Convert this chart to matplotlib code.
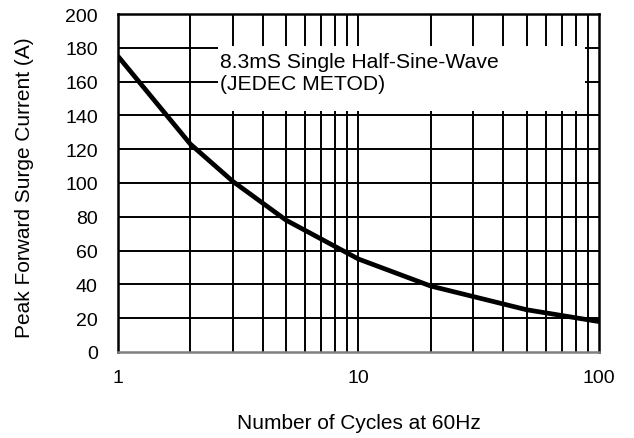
import matplotlib
matplotlib.use('Agg')
import matplotlib.pyplot as plt
from matplotlib.patches import Rectangle
import numpy as np

plt.rcParams['font.family'] = ['Liberation Sans', 'DejaVu Sans']

cycles = [1, 2, 3, 5, 10, 20, 50, 100]
current = [175, 123, 101, 78, 55, 39, 25, 18]

y_ticks = list(range(0, 201, 20))
x_ticks = [1, 10, 100]
x_tick_labels = ['1', '10', '100']

fig = plt.figure(figsize=(6.34, 4.39), dpi=100)
ax = fig.add_axes([118/634, 1 - 353/439, (599-118)/634, (353-15)/439])

ax.set_xscale('log')
ax.set_xlim(1, 100)
ax.set_ylim(0, 200)

# grid: every decade sub-step and every 20 A
minor_x = [m * d for d in (1, 10) for m in range(2, 10)] + [10]
for xv in minor_x:
    ax.axvline(xv, color='black', lw=1.4, zorder=1)
for yv in y_ticks[1:-1]:
    ax.axhline(yv, color='black', lw=1.4, zorder=1)

# white label box over the grid
ax.add_patch(Rectangle((2.61, 142.5), 87.4 - 2.61, 181.0 - 142.5, facecolor='white',
                       edgecolor='none', zorder=2))
ax.text(2.66, 165.4, '8.3mS Single Half-Sine-Wave\n(JEDEC METOD)', fontsize=15.2,
        va='center', ha='left', linespacing=1.25, zorder=3)

ax.plot(cycles, current, color='black', lw=3.4, zorder=4, solid_capstyle='butt')

ax.set_yticks(y_ticks)
ax.set_xticks(x_ticks)
ax.set_xticklabels(x_tick_labels)
ax.xaxis.set_minor_locator(matplotlib.ticker.NullLocator())
ax.tick_params(axis='both', length=0, labelsize=14)
ax.tick_params(axis='x', pad=12.5)
ax.tick_params(axis='y', pad=14.5)

for s in ['left', 'top', 'right']:
    ax.spines[s].set_linewidth(1.8)
ax.spines['bottom'].set_color('#808080')
ax.spines['bottom'].set_linewidth(1.8)

ax.set_ylabel('Peak Forward Surge Current (A)', fontsize=15)
ax.yaxis.set_label_coords(-84/481, 0.49)
ax.set_xlabel('Number of Cycles at 60Hz', fontsize=15, labelpad=19)

fig.savefig('out.png', dpi=100)
plt.close(fig)
